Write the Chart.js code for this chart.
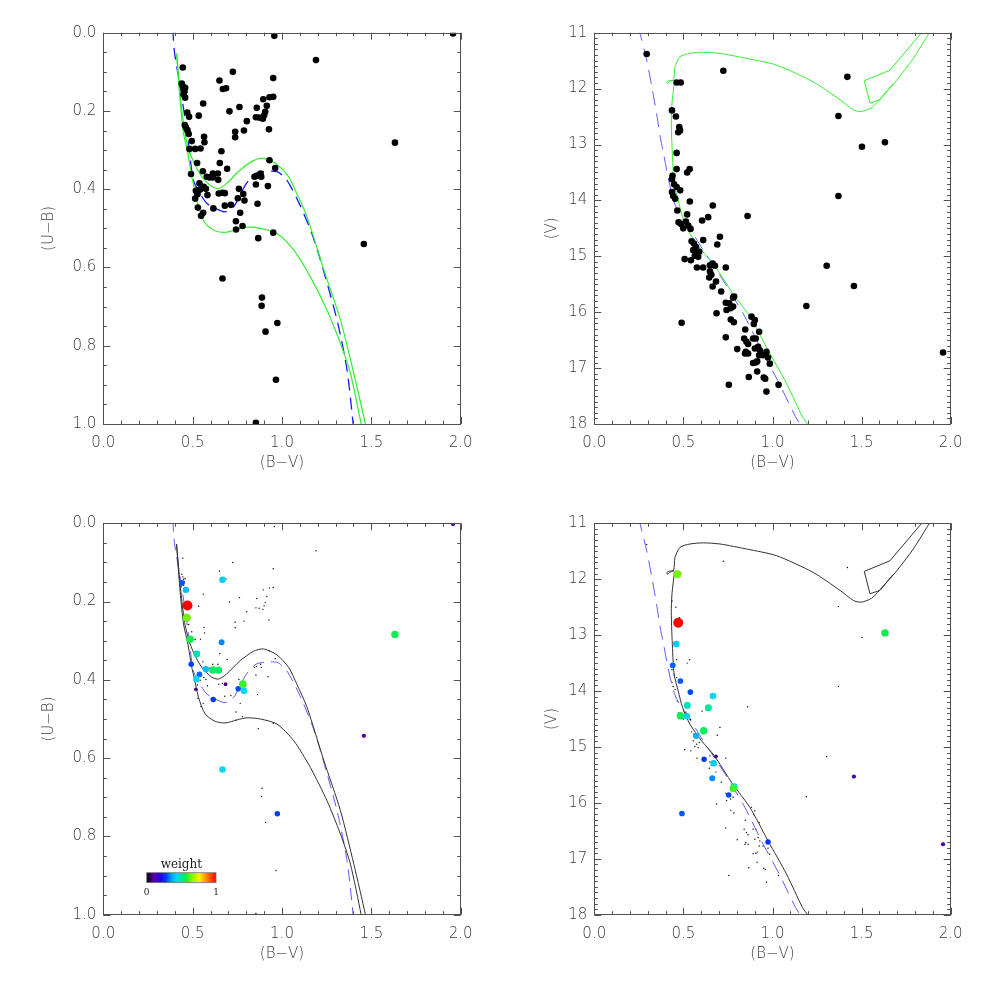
<!DOCTYPE html>
<html><head><meta charset="utf-8">
<script src="https://cdn.jsdelivr.net/npm/chart.js@4"></script>
<style>
html,body{margin:0;padding:0;background:#fff;width:981px;height:981px;overflow:hidden}
canvas{position:absolute}
</style></head><body>
<canvas id="c1" width="490" height="490" style="left:0;top:0"></canvas>
<canvas id="c2" width="491" height="490" style="left:490px;top:0"></canvas>
<canvas id="c3" width="490" height="491" style="left:0;top:490px"></canvas>
<canvas id="c4" width="491" height="491" style="left:490px;top:490px"></canvas>
<script>
// ---------- data ----------
const xTickVals = [0, 0.5, 1.0, 1.5, 2.0];
const ubTickVals = [0, 0.2, 0.4, 0.6, 0.8, 1.0];
const vTickVals = [11, 12, 13, 14, 15, 16, 17, 18];

// stars: (B-V),(U-B)
const ubBV = [0.957,1.957,1.19,0.445,0.725,0.650,0.669,0.687,0.951,0.439,0.445,0.450,0.458,0.454,0.458,0.449,0.559,0.895,0.930,0.951,0.706,0.762,0.859,0.854,0.872,0.893,0.900,0.906,0.915,0.470,0.480,0.534,0.803,0.927,0.738,0.738,0.787,0.456,0.462,0.471,0.478,0.564,0.566,0.495,0.482,0.514,0.544,0.661,0.525,0.652,0.693,0.930,0.962,0.491,0.557,0.579,0.594,0.613,0.613,0.641,0.643,0.846,0.857,0.880,0.884,0.538,0.518,0.527,0.542,0.562,0.583,0.514,0.646,0.667,0.680,0.759,0.783,0.753,0.790,0.616,0.680,0.714,0.863,0.529,0.547,0.559,0.766,0.742,0.743,0.779,0.951,0.867,1.458,1.632,0.667,0.888,0.886,0.974,0.908,0.966,0.854,0.921,0.854,0.574,0.531];
const ubUB = [0.008,0.002,0.070,0.089,0.100,0.122,0.144,0.142,0.116,0.130,0.137,0.143,0.141,0.150,0.166,0.158,0.181,0.170,0.165,0.164,0.201,0.190,0.192,0.216,0.217,0.220,0.211,0.202,0.187,0.204,0.215,0.212,0.226,0.247,0.253,0.267,0.250,0.236,0.242,0.249,0.259,0.266,0.280,0.277,0.297,0.297,0.296,0.303,0.333,0.333,0.348,0.326,0.346,0.361,0.354,0.368,0.370,0.360,0.370,0.360,0.376,0.368,0.366,0.360,0.368,0.385,0.404,0.413,0.401,0.394,0.415,0.424,0.411,0.409,0.410,0.399,0.412,0.423,0.429,0.449,0.442,0.440,0.437,0.447,0.468,0.460,0.460,0.482,0.503,0.494,0.511,0.525,0.540,0.281,0.628,0.677,0.698,0.742,0.764,0.887,0.997,0.392,0.388,0.399,0.403];

// stars: (B-V),(V)
const vBV = [0.294,0.724,1.420,0.462,0.485,1.370,0.436,0.458,0.477,0.471,0.481,1.502,1.631,0.462,0.462,0.521,0.535,0.439,0.436,0.448,0.462,0.482,0.436,0.443,0.454,0.466,0.536,0.665,0.860,0.639,0.605,0.521,0.473,0.486,0.499,0.514,0.527,0.540,0.705,0.690,0.611,0.546,0.559,0.570,0.555,0.574,0.589,0.564,0.583,0.507,0.542,0.576,0.611,0.649,0.664,0.677,0.649,0.657,0.645,0.683,0.664,0.738,0.712,0.785,0.779,0.738,0.757,0.742,0.765,0.779,0.686,0.766,0.783,0.490,0.882,0.901,0.895,0.925,0.847,0.738,0.841,0.854,0.863,0.891,0.906,0.919,0.901,0.929,0.966,0.947,0.975,0.925,0.802,0.850,0.863,0.846,0.891,0.906,0.914,0.985,0.914,0.867,0.951,0.959,0.755,1.034,0.966,1.190,1.370,1.304,1.457,1.957];
const vV = [11.38,11.68,11.79,11.89,11.89,12.49,12.39,12.50,12.69,12.78,12.75,13.04,12.96,13.15,13.44,13.50,13.44,13.56,13.62,13.71,13.76,13.82,13.85,13.92,13.97,14.18,14.02,14.09,14.28,14.30,14.36,14.25,14.39,14.42,14.50,14.38,14.45,14.51,14.65,14.79,14.71,14.73,14.77,14.83,14.89,14.95,14.92,14.99,15.01,15.05,15.07,15.20,15.20,15.16,15.13,15.17,15.27,15.33,15.38,15.45,15.54,15.20,15.63,15.72,15.74,15.83,15.84,15.96,15.93,15.90,16.02,16.13,16.18,16.19,16.08,16.14,16.21,16.35,16.31,16.45,16.47,16.53,16.57,16.47,16.47,16.62,16.65,16.68,16.71,16.77,16.81,16.77,16.66,16.71,16.74,16.74,16.91,16.90,16.88,16.92,17.06,17.16,17.17,17.19,17.30,17.30,17.42,15.89,13.92,15.17,15.53,16.72];

// isochrone (two branches) in (U-B) vs (B-V)
const isoUpBV = [0.41,0.425,0.44,0.458,0.48,0.505,0.551,0.607,0.645,0.69,0.766,0.84,0.897,0.971,1.037,1.083,1.14,1.234,1.327,1.402,1.467,1.475];
const isoUpUB = [0.053,0.13,0.2,0.26,0.30,0.33,0.368,0.393,0.398,0.385,0.351,0.327,0.321,0.336,0.368,0.411,0.47,0.606,0.734,0.871,1.0,1.02];
const isoLoBV = [0.41,0.422,0.435,0.45,0.473,0.495,0.508,0.533,0.57,0.626,0.686,0.75,0.804,0.879,0.972,1.065,1.159,1.252,1.327,1.383,1.443,1.45];
const isoLoUB = [0.053,0.13,0.2,0.26,0.308,0.368,0.393,0.445,0.487,0.506,0.510,0.502,0.497,0.500,0.513,0.555,0.624,0.709,0.794,0.871,1.0,1.02];
// ZAMS (U-B)
const zamsBV = [0.389,0.398,0.43,0.467,0.504,0.54,0.579,0.63,0.682,0.729,0.765,0.803,0.859,0.971,1.027,1.10,1.167,1.215,1.308,1.364,1.398,1.401];
const zamsUB = [-0.01,0.049,0.138,0.249,0.377,0.41,0.436,0.450,0.458,0.445,0.415,0.384,0.359,0.355,0.377,0.44,0.513,0.581,0.734,0.862,1.0,1.02];

// isochrone in V vs (B-V)
const isoVbv = [1.210,1.196,1.168,1.078,0.975,0.873,0.776,0.673,0.602,0.536,0.495,0.471,0.448,0.437,0.432,0.436,0.449,0.446,0.430,0.415,0.406,0.412,0.422,0.445,0.453,0.481,0.537,0.612,0.705,0.855,1.023,1.229,1.379,1.454,1.497,1.557,1.622,1.697,1.790,1.865,1.90];
const isoVv  = [18.14,18.00,17.87,17.27,16.68,16.08,15.66,15.155,14.89,14.59,14.29,14.00,13.70,13.10,12.60,12.26,11.88,11.85,11.855,11.86,11.89,11.91,11.88,11.84,11.61,11.43,11.37,11.35,11.37,11.46,11.58,11.88,12.20,12.38,12.41,12.34,12.12,11.85,11.46,11.08,10.90];
const loopVbv = [1.850,1.837,1.659,1.515,1.547,1.603,1.678];
const loopVv  = [10.90,11.00,11.67,11.86,12.26,12.20,11.91];
const zamsVbv = [0.250,0.256,0.294,0.325,0.352,0.372,0.385,0.415,0.450,0.499,0.555,0.611,0.723,0.845,0.938,1.037,1.129,1.165];
const zamsVv  = [10.9,11.0,11.49,12.0,12.5,12.9,13.1,13.6,14.05,14.35,14.6,14.89,15.43,16.08,16.68,17.27,17.87,18.05];

// weighted stars
const wUbBV = [0.518,0.684,1.458,1.957,0.615,0.492,0.974,0.755,0.441,0.538,0.662,0.462,0.574,0.667,0.667,0.520,0.787,0.523,0.645,0.613,0.486,1.632,0.781,0.467,0.471];
const wUbUB = [0.424,0.411,0.543,0.002,0.450,0.360,0.742,0.423,0.152,0.386,0.304,0.170,0.373,0.144,0.629,0.398,0.428,0.334,0.375,0.375,0.296,0.284,0.411,0.241,0.210];
const wUbW  = [0.08,0.08,0.13,0.13,0.27,0.28,0.28,0.29,0.30,0.31,0.34,0.40,0.40,0.42,0.43,0.43,0.43,0.48,0.54,0.55,0.57,0.56,0.60,0.64,1.00];

const wVbv = [0.683,1.457,1.957,0.616,0.975,0.539,0.754,0.483,0.492,0.440,0.662,0.571,0.460,0.520,0.670,0.666,0.785,0.522,0.640,0.614,0.483,1.631,0.780,0.466,0.471];
const wVv  = [15.17,15.53,16.74,15.22,16.70,14.02,15.86,13.82,16.19,13.54,15.56,14.80,13.16,14.45,15.29,14.09,15.71,14.26,14.30,14.71,14.44,12.96,15.74,11.91,12.78];
const wVw  = [0.08,0.13,0.13,0.27,0.27,0.29,0.29,0.30,0.30,0.31,0.34,0.38,0.42,0.42,0.42,0.43,0.43,0.48,0.50,0.55,0.56,0.56,0.60,0.64,1.00];

// ---------- helpers ----------
const zip = (a, b) => a.map((v, i) => ({x: v, y: b[i]}));
const cStops = [[0,0,0,0],[0.1,90,0,160],[0.2,40,0,230],[0.28,0,60,255],[0.35,0,150,255],[0.43,0,215,240],[0.5,0,228,160],[0.57,20,238,70],[0.65,130,245,0],[0.76,255,240,0],[0.88,255,120,0],[1,255,0,0]];
function cmap(w) {
  for (let i = 1; i < cStops.length; i++) {
    if (w <= cStops[i][0]) {
      const a = cStops[i-1], b = cStops[i], t = (w - a[0]) / (b[0] - a[0]);
      return 'rgb(' + [1,2,3].map(k => Math.round(a[k] + t*(b[k]-a[k]))).join(',') + ')';
    }
  }
  return 'rgb(255,0,0)';
}
const wRad = w => 1.2 + 3.8 * Math.pow(w, 0.7);

const FONT = "'DejaVu Sans', sans-serif";
const TXT = '#3a3a3a';

const frameTicks = {
  id: 'frameTicks',
  afterDatasetsDraw(chart, args, o) {
    const {ctx, chartArea: a, scales: {x, y}} = chart;
    ctx.save();
    ctx.strokeStyle = '#505050'; ctx.lineWidth = 1;
    ctx.beginPath();
    const draw = (scale, minor, k, horiz) => {
      const n = Math.round((scale.max - scale.min) / minor);
      for (let i = 0; i <= n; i++) {
        const v = scale.min + i * minor;
        const p = Math.round(scale.getPixelForValue(v)) + 0.5;
        const len = (i % k === 0) ? 7 : 3.5;
        if (horiz) {
          ctx.moveTo(p, a.bottom); ctx.lineTo(p, a.bottom - len);
          ctx.moveTo(p, a.top); ctx.lineTo(p, a.top + len);
        } else {
          ctx.moveTo(a.left, p); ctx.lineTo(a.left + len, p);
          ctx.moveTo(a.right, p); ctx.lineTo(a.right - len, p);
        }
      }
    };
    draw(x, 0.1, 5, true);
    draw(y, o.minor, o.k, false);
    ctx.stroke();
    ctx.strokeRect(Math.round(a.left)+0.5, Math.round(a.top)+0.5, Math.round(a.right-a.left), Math.round(a.bottom-a.top));
    ctx.restore();
  }
};

const colorBar = {
  id: 'colorBar',
  afterDatasetsDraw(chart, args, o) {
    if (!o.show) return;
    const {ctx, chartArea: a} = chart;
    const x0 = a.left + 43.4, x1 = a.left + 112.7, y0 = a.top + 349.4, y1 = a.top + 359.4;
    const g = ctx.createLinearGradient(x0, 0, x1, 0);
    cStops.forEach(s => g.addColorStop(s[0], 'rgb(' + s[1] + ',' + s[2] + ',' + s[3] + ')'));
    ctx.save();
    ctx.fillStyle = g; ctx.fillRect(x0, y0, x1 - x0, y1 - y0);
    ctx.strokeStyle = '#777'; ctx.lineWidth = 0.8; ctx.strokeRect(x0, y0, x1 - x0, y1 - y0);
    ctx.fillStyle = '#222'; ctx.textAlign = 'center'; ctx.textBaseline = 'middle';
    ctx.font = "12px 'DejaVu Serif', serif";
    ctx.fillText('weight', (x0 + x1) / 2, y0 - 8);
    ctx.font = "9px 'DejaVu Serif', serif";
    ctx.fillText('0', x0, y1 + 10);
    ctx.fillText('1', x1, y1 + 10);
    ctx.restore();
  }
};

function makeChart(id, box, area, yc, datasets, showBar) {
  const yW = area.l - box.l, xH = box.t + box.h - area.b;
  return new Chart(document.getElementById(id), {
    type: 'scatter',
    data: {datasets},
    options: {
      responsive: false, animation: false, devicePixelRatio: 1,
      layout: {padding: {left: 0, top: area.t - box.t, right: box.l + box.w - area.r, bottom: 0}},
      plugins: {legend: {display: false}, tooltip: {enabled: false},
        frameTicks: {minor: yc.minor, k: yc.k}, colorBar: {show: showBar}},
      scales: {
        x: {type: 'linear', position: 'bottom', min: 0, max: 2,
          afterFit: s => { s.height = xH; },
          afterBuildTicks: s => { s.ticks = xTickVals.map(v => ({value: v})); },
          grid: {display: false, drawTicks: false}, border: {display: false},
          ticks: {padding: 10, color: TXT, font: {family: FONT, size: 15, weight: 200}, maxRotation: 0, autoSkip: false,
            callback: v => Number(v).toFixed(1)},
          title: {display: true, text: '(B\u2212V)', color: TXT, font: {family: FONT, size: 15, weight: 200}, padding: {top: 0, bottom: 18}}
        },
        y: {type: 'linear', position: 'left', min: yc.min, max: yc.max, reverse: true,
          afterFit: s => { s.width = yW; },
          afterBuildTicks: s => { s.ticks = yc.vals.map(v => ({value: v})); },
          grid: {display: false, drawTicks: false}, border: {display: false},
          ticks: {padding: 7, color: TXT, font: {family: FONT, size: 15, weight: 200}, autoSkip: false,
            callback: yc.fmt},
          title: {display: true, text: yc.title, color: TXT, font: {family: FONT, size: 15, weight: 200}, padding: {top: yc.tpad, bottom: 0}}
        }
      }
    },
    plugins: [frameTicks, colorBar]
  });
}

const lineDS = (data, color, width, dash, order, tension) => ({data, showLine: true, borderColor: color, borderWidth: width, borderDash: dash || [], pointRadius: 0, fill: false, tension: tension === undefined ? 0.25 : tension, clip: 0, order});
const dotDS = (data, r, order) => ({data, showLine: false, pointRadius: r, pointBackgroundColor: '#000', pointBorderWidth: 0, clip: 0, order});
const wDS = (bv, yy, w) => ({data: zip(bv, yy), showLine: false, pointRadius: w.map(wRad), pointBackgroundColor: w.map(cmap), pointBorderWidth: 0, clip: 0, order: 0});

const ubCfg = {min: 0, max: 1, vals: ubTickVals, minor: 0.05, k: 4, fmt: v => Number(v).toFixed(1), title: '(U\u2212B)', tpad: 40};
const vCfg = {min: 11, max: 18, vals: vTickVals, minor: 0.1, k: 10, fmt: v => String(Math.round(v)), title: '(V)', tpad: 53};

const GREEN = '#33ee33', BLUE1 = '#1a1aff', BLUE2 = '#5a5aff', BLK = '#333';

makeChart('c1', {l: 0, t: 0, w: 490, h: 490}, {l: 103.3, t: 32.7, r: 460.7, b: 424}, ubCfg, [
  dotDS(zip(ubBV, ubUB), 3.3, 0),
  lineDS(zip(isoUpBV, isoUpUB), GREEN, 1.2, null, 1),
  lineDS(zip(isoLoBV, isoLoUB), GREEN, 1.2, null, 1),
  lineDS(zip(zamsBV, zamsUB), BLUE1, 1.3, [12, 7], 1)
], false);

makeChart('c2', {l: 490, t: 0, w: 491, h: 490}, {l: 594.3, t: 32.7, r: 950.7, b: 424}, vCfg, [
  dotDS(zip(vBV, vV), 3.3, 0),
  lineDS(zip(isoVbv, isoVv), GREEN, 1, null, 1),
  lineDS(zip(loopVbv, loopVv), GREEN, 1, null, 1, 0),
  lineDS(zip(zamsVbv, zamsVv), BLUE2, 1, [14, 8], 1)
], false);

makeChart('c3', {l: 0, t: 490, w: 490, h: 491}, {l: 103.3, t: 523.3, r: 460.7, b: 914.7}, ubCfg, [
  wDS(wUbBV, wUbUB, wUbW),
  dotDS(zip(ubBV, ubUB), 0.7, 2),
  lineDS(zip(isoUpBV, isoUpUB), BLK, 1, null, 1),
  lineDS(zip(isoLoBV, isoLoUB), BLK, 1, null, 1),
  lineDS(zip(zamsBV, zamsUB), BLUE2, 1, [12, 7], 1)
], true);

makeChart('c4', {l: 490, t: 490, w: 491, h: 491}, {l: 594.3, t: 523.3, r: 950.7, b: 914.7}, vCfg, [
  wDS(wVbv, wVv, wVw),
  dotDS(zip(vBV, vV), 0.7, 2),
  lineDS(zip(isoVbv, isoVv), BLK, 1, null, 1),
  lineDS(zip(loopVbv, loopVv), BLK, 1, null, 1, 0),
  lineDS(zip(zamsVbv, zamsVv), BLUE2, 1, [14, 8], 1)
], false);
</script>
</body></html>
